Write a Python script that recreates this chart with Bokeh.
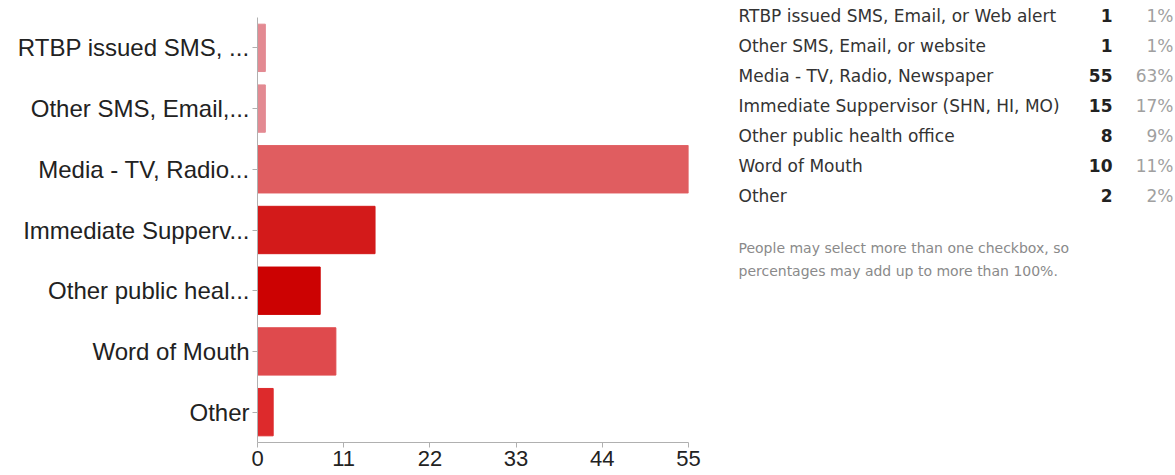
from bokeh.plotting import figure
from bokeh.models import FactorRange, Range1d, FixedTicker, ColumnDataSource, Plot
from bokeh.layouts import row
from bokeh.core.properties import value
from bokeh.embed import file_html
from bokeh.resources import INLINE

# ---- data ----
full_names = [
    "RTBP issued SMS, Email, or Web alert",
    "Other SMS, Email, or website",
    "Media - TV, Radio, Newspaper",
    "Immediate Suppervisor (SHN, HI, MO)",
    "Other public health office",
    "Word of Mouth",
    "Other",
]
short_labels = [
    "RTBP issued SMS, ...",
    "Other SMS, Email,...",
    "Media - TV, Radio...",
    "Immediate Supperv...",
    "Other public heal...",
    "Word of Mouth",
    "Other",
]
counts = [1, 1, 55, 15, 8, 10, 2]
percents = ["1%", "1%", "63%", "17%", "9%", "11%", "2%"]
bar_colors = ["#e38a92", "#e38a92", "#e05d60", "#d31a1a", "#cc0202", "#df4a4d", "#dd2a2c"]
x_ticks = [0, 11, 22, 33, 44, 55]
footnote = ["People may select more than one checkbox, so",
            "percentages may add up to more than 100%."]

TOP, BOTTOM = 17, 33
HAS_FRAME_ALIGN = "frame_align" in Plot.properties()

# ---- bar chart ----
p = figure(width=710, height=475, title=None,
           y_range=FactorRange(factors=list(reversed(short_labels))),
           x_range=Range1d(0, 55),
           min_border_left=257, min_border_right=22, min_border_top=TOP, min_border_bottom=BOTTOM,
           output_backend="svg", toolbar_location=None)
src = ColumnDataSource(dict(y=short_labels, right=counts, color=bar_colors))
p.hbar(y="y", left=0, right="right", height=0.78, source=src,
       fill_color="color", line_color="color")

p.grid.visible = False
p.outline_line_color = None
p.background_fill_color = "white"
p.border_fill_color = "white"

for ax in (p.xaxis[0], p.yaxis[0]):
    ax.axis_line_color = "#b0b0b0"
    ax.major_tick_line_color = "#b0b0b0"
    ax.minor_tick_line_color = None
    ax.major_tick_in = 0
    ax.major_tick_out = 5
    ax.major_label_text_font = "Liberation Sans"
    ax.major_label_text_color = "#222222"

p.yaxis[0].major_label_text_font_size = "24px"
p.yaxis[0].major_label_standoff = 3
p.xaxis[0].major_label_text_font_size = "22px"
p.xaxis[0].major_label_standoff = 3
p.xaxis[0].ticker = FixedTicker(ticks=x_ticks)

# ---- summary table ----
if HAS_FRAME_ALIGN:
    p.frame_align = False
    t_top, t_bottom = 0, 0
else:
    t_top, t_bottom = TOP, BOTTOM

t = figure(width=465, height=475, title=None,
           x_range=Range1d(0, 465), y_range=Range1d(475 - t_bottom, t_top),
           x_axis_location=None, y_axis_location=None,
           min_border_top=t_top, min_border_bottom=t_bottom, min_border_left=0, min_border_right=0,
           output_backend="svg", toolbar_location=None)
if HAS_FRAME_ALIGN:
    t.frame_align = False
t.grid.visible = False
t.outline_line_color = None

row0, pitch = 15, 30
ys = [row0 + pitch * i for i in range(len(full_names))]
tsrc = ColumnDataSource(dict(y=ys, name=full_names,
                             cnt=[str(c) for c in counts], pct=percents))
font = value("DejaVu Sans")
t.text(x=28, y="y", text="name", source=tsrc, text_font=font,
       text_font_size="17px", text_color="#333333", text_baseline="middle", text_align="left")
t.text(x=402, y="y", text="cnt", source=tsrc, text_font=font,
       text_font_size="17px", text_font_style="bold", text_color="#222222",
       text_baseline="middle", text_align="right")
t.text(x=463, y="y", text="pct", source=tsrc, text_font=font,
       text_font_size="17px", text_color="#a0a0a0", text_baseline="middle", text_align="right")

fy0 = ys[-1] + 52
t.text(x=28, y=[fy0 + 23 * i for i in range(len(footnote))], text=footnote,
       text_font=font, text_font_size="14px", text_color="#8a8a8a",
       text_baseline="middle", text_align="left")

layout = row(p, t)
open("out.html", "w").write(file_html(layout, INLINE))
